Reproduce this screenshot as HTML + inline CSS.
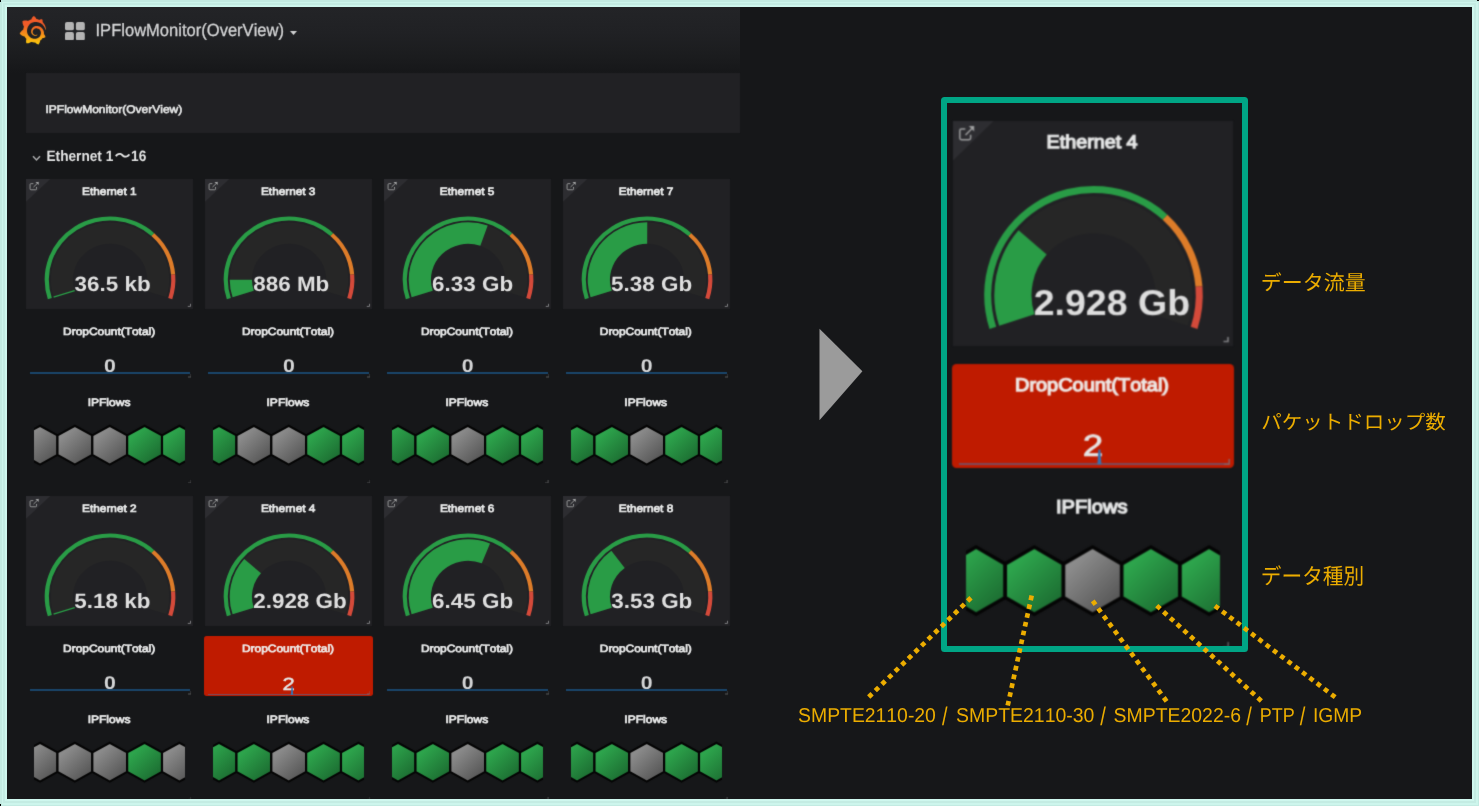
<!DOCTYPE html>
<html lang="ja"><head><meta charset="utf-8"><title>IPFlowMonitor(OverView)</title>
<style>
html,body{margin:0;padding:0;background:#c4ece3}
body{width:1479px;height:806px;position:relative;overflow:hidden;background:#c4ece3;font-family:"Liberation Sans",sans-serif;font-kerning:none}
.a{position:absolute;display:block}
.tx{left:0;top:0;overflow:visible}
.s{font-family:"Liberation Sans",sans-serif;font-kerning:none;text-rendering:geometricPrecision;white-space:pre}
</style></head><body>
<div class="a" style="left:0;top:0;width:1479px;height:806px;background:#c3ebe2"></div>
<div class="a" style="left:1.5px;top:1.5px;width:1476px;height:803px;background:#cdf5ec"></div>
<div class="a" style="left:3px;top:3px;width:1473px;height:800px;background:#c4ece3"></div>
<div class="a" style="left:5px;top:5px;width:1469px;height:796px;background:#cff7ee"></div>
<div class="a" style="left:7px;top:7px;width:1465px;height:792px;background:#161719"></div>
<div class="a" style="left:0;top:0;width:1px;height:2px;background:#000"></div>
<div class="a" style="left:1477px;top:0;width:2px;height:1px;background:#000"></div>
<div class="a" style="left:0;top:804px;width:1px;height:2px;background:#000"></div>
<div class="a" style="left:7px;top:7px;width:733px;height:66px;background:linear-gradient(180deg,#232427 0%,#202124 40%,#1b1c1e 75%,#161719 100%)"></div>
<svg width="0" height="0" style="position:absolute"><defs><linearGradient id="hg" x1="25%" y1="20%" x2="80%" y2="85%"><stop offset="0" stop-color="#2da44c"/><stop offset="1" stop-color="#1d7033"/></linearGradient><linearGradient id="hx" x1="25%" y1="20%" x2="80%" y2="85%"><stop offset="0" stop-color="#8b8b8b"/><stop offset="1" stop-color="#595959"/></linearGradient><filter id="bl" x="0" y="0" width="100%" height="100%" color-interpolation-filters="sRGB"><feConvolveMatrix order="3" kernelMatrix="0.0113 0.0838 0.0113 0.0838 0.6193 0.0838 0.0113 0.0838 0.0113" edgeMode="none" preserveAlpha="false"/></filter><filter id="br" x="0" y="0" width="100%" height="100%" color-interpolation-filters="sRGB"><feConvolveMatrix order="5" kernelMatrix="0.0004 0.0043 0.0098 0.0043 0.0004 0.0043 0.0506 0.1151 0.0506 0.0043 0.0098 0.1151 0.2619 0.1151 0.0098 0.0043 0.0506 0.1151 0.0506 0.0043 0.0004 0.0043 0.0098 0.0043 0.0004" edgeMode="none" preserveAlpha="false"/></filter></defs></svg>
<div class="a" style="left:0;top:0;width:1479px;height:806px;filter:url(#bl);clip-path:inset(7px 7px 7px 7px)">
<svg class="a" style="left:19px;top:16px" width="27.5" height="28.5" viewBox="0 0 351 365"><defs><linearGradient id="lg" gradientUnits="userSpaceOnUse" x1="175.5" y1="445.5" x2="175.5" y2="114"><stop offset="0" stop-color="#FFF100"/><stop offset="1" stop-color="#F05A28"/></linearGradient></defs><path fill="url(#lg)" d="M342,161.2c-0.6-6.1-1.6-13.1-3.6-20.9c-2-7.7-5-16.2-9.4-25c-4.4-8.8-10.1-17.9-17.5-26.8c-2.9-3.5-6.1-6.9-9.5-10.2c5.1-20.3-6.2-37.9-6.2-37.9c-19.5-1.2-31.9,6.1-36.5,9.4c-0.8-0.3-1.5-0.7-2.3-1c-3.3-1.3-6.7-2.6-10.3-3.7c-3.5-1.1-7.1-2.1-10.8-3c-3.7-0.9-7.4-1.6-11.2-2.2c-0.7-0.1-1.3-0.2-2-0.3c-8.5-27.2-32.9-38.6-32.9-38.6c-27.3,17.3-32.4,41.5-32.4,41.5s-0.1,0.5-0.3,1.4c-1.5,0.4-3,0.9-4.5,1.3c-2.1,0.6-4.2,1.4-6.2,2.2c-2.1,0.8-4.1,1.6-6.2,2.5c-4.1,1.8-8.2,3.8-12.2,6c-3.9,2.2-7.7,4.6-11.4,7.1c-0.5-0.2-1-0.4-1-0.4c-37.8-14.4-71.3,2.9-71.3,2.9c-3.1,40.2,15.1,65.5,18.7,70.1c-0.9,2.5-1.7,5-2.5,7.5c-2.8,9.1-4.9,18.4-6.2,28.1c-0.2,1.4-0.4,2.8-0.5,4.2C18.8,192.7,8.5,228,8.5,228c29.1,33.5,63.1,35.6,63.1,35.6c0,0,0.1-0.1,0.1-0.1c4.3,7.7,9.3,15,14.9,21.9c2.4,2.9,4.8,5.6,7.4,8.3c-10.6,30.4,1.5,55.6,1.5,55.6c32.4,1.2,53.7-14.2,58.2-17.7c3.2,1.1,6.5,2.1,9.8,2.9c10,2.6,20.2,4.1,30.4,4.5c2.5,0.1,5.1,0.2,7.6,0.1l1.2,0l0.8,0l1.6,0l1.6-0.1l0,0.1c15.3,21.8,42.1,24.9,42.1,24.9c19.1-20.1,20.2-40.1,20.2-44.4l0,0c0,0,0-0.1,0-0.3c0-0.4,0-0.6,0-0.6l0,0c0-0.3,0-0.6,0-0.9c4-2.8,7.8-5.8,11.4-9.1c7.6-6.9,14.3-14.8,19.9-23.3c0.5-0.8,1-1.6,1.5-2.4c21.6,1.2,36.9-13.4,36.9-13.4c-3.6-22.5-16.4-33.5-19.1-35.6l0,0c0,0-0.1-0.1-0.3-0.2c-0.2-0.1-0.2-0.2-0.2-0.2c0,0,0,0,0,0c-0.1-0.1-0.3-0.2-0.5-0.3c0.1-1.4,0.2-2.7,0.3-4.1c0.2-2.4,0.2-4.9,0.2-7.3l0-1.8l0-0.9l0-0.5c0-0.6,0-0.4,0-0.6l-0.1-1.5l-0.1-2c0-0.7-0.1-1.3-0.2-1.9c-0.1-0.6-0.1-1.3-0.2-1.9l-0.2-1.9l-0.3-1.9c-0.4-2.5-0.8-4.9-1.4-7.4c-2.3-9.7-6.1-18.9-11-27.2c-5-8.3-11.2-15.6-18.3-21.8c-7-6.2-14.9-11.2-23.1-14.9c-8.3-3.7-16.9-6.1-25.5-7.2c-4.3-0.6-8.6-0.8-12.9-0.7l-1.6,0l-0.4,0c-0.1,0-0.6,0-0.5,0l-0.7,0l-1.6,0.1c-0.6,0-1.2,0.1-1.7,0.1c-2.2,0.2-4.4,0.5-6.5,0.9c-8.6,1.6-16.7,4.7-23.8,9c-7.1,4.3-13.3,9.6-18.3,15.6c-5,6-8.9,12.7-11.6,19.6c-2.7,6.9-4.2,14.1-4.6,21c-0.1,1.7-0.1,3.5-0.1,5.2c0,0.4,0,0.9,0,1.3l0.1,1.4c0.1,0.8,0.1,1.7,0.2,2.5c0.3,3.5,1,6.9,1.9,10.1c1.9,6.5,4.9,12.4,8.6,17.4c3.7,5,8.2,9.1,12.9,12.4c4.7,3.2,9.8,5.5,14.8,7c5,1.5,10,2.1,14.7,2.1c0.6,0,1.2,0,1.7,0c0.3,0,0.6,0,0.9,0c0.3,0,0.6,0,0.9-0.1c0.5,0,1-0.1,1.5-0.1c0.1,0,0.3,0,0.4-0.1l0.5-0.1c0.3,0,0.6-0.1,0.9-0.1c0.6-0.1,1.1-0.2,1.7-0.3c0.6-0.1,1.1-0.2,1.6-0.4c1.1-0.2,2.1-0.6,3.1-0.9c2-0.7,4-1.5,5.7-2.4c1.8-0.9,3.4-2,5-3c0.4-0.3,0.9-0.6,1.3-1c1.6-1.3,1.9-3.7,0.6-5.3c-1.1-1.4-3.1-1.8-4.7-0.9c-0.4,0.2-0.8,0.4-1.2,0.6c-1.4,0.7-2.8,1.3-4.3,1.8c-1.5,0.5-3.1,0.9-4.7,1.2c-0.8,0.1-1.6,0.2-2.5,0.3c-0.4,0-0.8,0.1-1.3,0.1c-0.4,0-0.9,0-1.2,0c-0.4,0-0.8,0-1.2,0c-0.5,0-1,0-1.5-0.1c0,0-0.3,0-0.1,0l-0.2,0l-0.3,0c-0.2,0-0.5,0-0.7-0.1c-0.5-0.1-0.9-0.1-1.4-0.2c-3.7-0.5-7.4-1.6-10.9-3.2c-3.6-1.6-7-3.8-10.1-6.6c-3.1-2.8-5.8-6.1-7.9-9.9c-2.1-3.8-3.6-8-4.3-12.4c-0.3-2.2-0.5-4.5-0.4-6.7c0-0.6,0.1-1.2,0.1-1.8c0,0.2,0-0.1,0-0.1l0-0.2l0-0.5c0-0.3,0.1-0.6,0.1-0.9c0.1-1.2,0.3-2.4,0.5-3.6c1.7-9.6,6.5-19,13.9-26.1c1.9-1.8,3.9-3.4,6-4.9c2.1-1.5,4.4-2.8,6.8-3.9c2.4-1.1,4.8-2,7.4-2.7c2.5-0.7,5.1-1.1,7.8-1.4c1.3-0.1,2.6-0.2,4-0.2c0.4,0,0.6,0,0.9,0l1.1,0l0.7,0c0.3,0,0,0,0.1,0l0.3,0l1.1,0.1c2.9,0.2,5.7,0.6,8.5,1.3c5.6,1.2,11.1,3.3,16.2,6.1c10.2,5.7,18.9,14.5,24.2,25.1c2.7,5.3,4.6,11,5.5,16.9c0.2,1.5,0.4,3,0.5,4.5l0.1,1.1l0.1,1.1c0,0.4,0,0.8,0,1.1c0,0.4,0,0.8,0,1.1l0,1l0,1.1c0,0.7-0.1,1.9-0.1,2.6c-0.1,1.6-0.3,3.3-0.5,4.9c-0.2,1.6-0.5,3.2-0.8,4.8c-0.3,1.6-0.7,3.2-1.1,4.7c-0.8,3.1-1.8,6.2-3,9.3c-2.4,6-5.6,11.8-9.4,17.1c-7.700,10.600-18.200,19.200-30.200,24.700c-6,2.700-12.300,4.700-18.800,5.700c-3.200,0.600-6.500,0.900-9.800,1l-0.600,0l-0.500,0l-1.100,0l-1.600,0l-0.800,0c0.400,0-0.100,0-0.100,0l-0.300,0c-1.800,0-3.500-0.100-5.300-0.300c-7-0.500-13.900-1.800-20.700-3.700c-6.700-1.900-13.200-4.600-19.400-7.800c-12.300-6.600-23.400-15.600-32-26.500c-4.300-5.400-8.100-11.300-11.200-17.400c-3.100-6.100-5.600-12.600-7.400-19.100c-1.800-6.600-2.900-13.300-3.400-20.100l-0.100-1.300l0-0.300l0-0.300l0-0.600l0-1.100l0-0.300l0-0.400l0-0.800l0-1.600l0-0.300c0,0,0,0.100,0-0.100l0-0.600c0-0.800,0-1.700,0-2.500c0.100-3.300,0.400-6.800,0.800-10.200c0.400-3.400,1-6.900,1.700-10.300c0.700-3.400,1.500-6.800,2.500-10.200c1.900-6.700,4.300-13.200,7.100-19.300c5.700-12.200,13.100-23.100,22-31.800c2.200-2.200,4.500-4.200,6.900-6.200c2.400-1.900,4.900-3.700,7.500-5.400c2.500-1.700,5.200-3.200,7.900-4.600c1.300-0.700,2.700-1.400,4.100-2c0.700-0.300,1.400-0.600,2.100-0.900c0.700-0.300,1.400-0.600,2.100-0.900c2.800-1.200,5.700-2.200,8.700-3.100c0.700-0.200,1.500-0.400,2.200-0.700c0.700-0.200,1.500-0.400,2.200-0.600c1.500-0.400,3-0.800,4.500-1.100c0.700-0.200,1.500-0.300,2.300-0.500c0.800-0.200,1.500-0.300,2.300-0.500c0.800-0.100,1.500-0.300,2.300-0.400l1.100-0.200l1.200-0.200c0.800-0.100,1.500-0.200,2.300-0.300c0.900-0.100,1.700-0.200,2.600-0.300c0.700-0.100,1.900-0.200,2.600-0.300c0.500-0.100,1.100-0.100,1.600-0.200l1.100-0.100l0.500-0.100l0.600,0c0.900-0.100,1.700-0.100,2.600-0.200l1.300-0.100c0,0,0.500,0,0.100,0l0.300,0l0.600,0c0.700,0,1.500-0.100,2.200-0.100c2.900-0.100,5.900-0.100,8.800,0c5.800,0.200,11.500,0.900,17,1.900c11.100,2.100,21.500,5.600,31,10.300c9.500,4.600,17.900,10.300,25.300,16.500c0.500,0.400,0.900,0.800,1.400,1.200c0.400,0.400,0.900,0.800,1.300,1.200c0.900,0.800,1.700,1.600,2.600,2.400c0.900,0.800,1.700,1.600,2.500,2.400c0.800,0.800,1.600,1.600,2.400,2.500c3.100,3.300,6,6.600,8.600,10c5.200,6.700,9.400,13.500,12.700,19.900c0.200,0.400,0.400,0.800,0.600,1.200c0.200,0.400,0.400,0.800,0.600,1.200c0.400,0.800,0.800,1.600,1.100,2.400c0.400,0.800,0.700,1.500,1.100,2.300c0.300,0.800,0.700,1.500,1,2.300c1.200,3,2.400,5.900,3.300,8.600c1.500,4.400,2.600,8.300,3.500,11.700c0.300,1.400,1.600,2.300,3,2.100c1.500-0.100,2.600-1.300,2.600-2.800C342.600,170.400,342.500,166.100,342,161.200z"/></svg>
<svg class="a" style="left:65.2px;top:21.8px" width="19.8" height="18.4" viewBox="0 0 20 19" preserveAspectRatio="none"><g fill="#b4b4b4"><rect x="0" y="0" width="9" height="8.6" rx="2"/><rect x="11" y="0" width="9" height="8.6" rx="2"/><rect x="0" y="10.4" width="9" height="8.6" rx="2"/><rect x="11" y="10.4" width="9" height="8.6" rx="2"/></g></svg>
<svg class="a tx" width="1" height="1"><text class="s" transform="translate(95.52,36) scale(0.9412,1)" font-size="17.59" fill="#d3d4d5" stroke="#d3d4d5" stroke-width="0.3">IPFlowMonitor(OverView)</text></svg>
<svg class="a" style="left:290px;top:30.5px" width="7" height="4" viewBox="0 0 7 4"><path d="M0 0H7L3.5 4Z" fill="#cfd0d1"/></svg>
<div class="a" style="left:26.3px;top:73.3px;width:713.7px;height:59.4px;background:#212124"></div>
<svg class="a tx" width="1" height="1"><text class="s" transform="translate(45.49,113) scale(1.0868,1)" font-size="11.05" fill="#e4e5e5" stroke="#e4e5e5" stroke-width="0.6">IPFlowMonitor(OverView)</text></svg>
<svg class="a" style="left:32px;top:154.5px" width="9" height="7" viewBox="0 0 9 7"><path d="M1 1.2L4.5 5L8 1.2" fill="none" stroke="#a7a8a9" stroke-width="1.5"/></svg>
<svg class="a tx" width="1" height="1"><text class="s" transform="translate(46.48,161) scale(0.9093,1)" font-size="15.04" font-weight="bold" fill="#e2e3e3">Ethernet 1</text></svg>
<svg class="a tx" width="1" height="1"><text class="s" transform="translate(131.04,161) scale(0.9093,1)" font-size="15.04" font-weight="bold" fill="#e2e3e3">16</text></svg>
<svg class="a tx" width="1" height="1"><text class="s" style="font-family:'Liberation Sans','Noto Sans CJK JP',sans-serif" transform="translate(114.6,161) scale(1.077,1)" font-size="15.04" font-weight="bold" fill="#e2e3e3">～</text></svg>
<!-- Ethernet 1 -->
<div class="a" style="left:26px;top:179.3px;width:167.2px;height:130px;background:#212124"></div>
<svg class="a" style="left:26px;top:179.3px" width="167.2" height="130" viewBox="0 0 279.5 225.0" preserveAspectRatio="none"><path d="M0 0H40.6L0 39.5Z" fill="#2d2d31"/><g transform="translate(6.2,5) scale(1.02)" fill="none" stroke="#a0a1a2" stroke-width="1.45"><path d="M11.2 8.6V11.8Q11.2 13.4 9.6 13.4H2.2Q.6 13.4 .6 11.8V4.6Q.6 3 2.2 3H6"/><path d="M6.2 8.8L14 1"/></g><path d="M15.8 5H21.2V10.4Z" fill="#a0a1a2"/><path d="M46.16 204.85A99.2 99.2 0 1 1 234.84 204.85L199.47 193.36A62 62 0 1 0 81.53 193.36Z" fill="#262626"/><path d="M46.03 204.48L81.46 193.12" stroke="#299c46" stroke-width="2.2"/><path d="M36.55 207.98A109.3 109.3 0 0 1 214.42 93.68L209.68 98.84A102.3 102.3 0 0 0 43.21 205.81Z" fill="#299c46"/><path d="M214.42 93.68A109.3 109.3 0 0 1 249.44 165.28L242.46 165.85A102.3 102.3 0 0 0 209.68 98.84Z" fill="#dd7c29"/><path d="M249.44 165.28A109.3 109.3 0 0 1 244.45 207.98L237.79 205.81A102.3 102.3 0 0 0 242.46 165.85Z" fill="#d44a3a"/><path d="M270.5 220.5H275V216" fill="none" stroke="#808183" stroke-width="1.6"/></svg>
<svg class="a tx" width="1" height="1"><text class="s" transform="translate(82.11,195) scale(1.1024,1)" font-size="10.71" fill="#e6e7e7" stroke="#e6e7e7" stroke-width="0.72">Ethernet 1</text></svg>
<svg class="a tx" width="1" height="1"><text class="s" transform="translate(74.54,291) scale(1.0824,1)" font-size="20.74" font-weight="bold" fill="#dedede">36.5 kb</text></svg>
<svg class="a tx" width="1" height="1"><text class="s" transform="translate(63.08,335) scale(1.1316,1)" font-size="10.54" fill="#e6e7e7" stroke="#e6e7e7" stroke-width="0.72">DropCount(Total)</text></svg>
<svg class="a tx" width="1" height="1"><text class="s" transform="translate(104.03,372) scale(1.1558,1)" font-size="18.39" font-weight="bold" fill="#d4d5d6">0</text></svg>
<div class="a" style="left:29.59px;top:372.42px;width:160.92px;height:1.1px;background:#1a456a"></div>
<svg class="a" style="left:187.82px;top:374.07px" width="3.59" height="3.47" viewBox="0 0 6 6" preserveAspectRatio="none"><path d="M0 5.2H5.2V0" fill="none" stroke="#5d5e60" stroke-width="1.6"/></svg>
<svg class="a tx" width="1" height="1"><text class="s" transform="translate(87.63,406) scale(1.1167,1)" font-size="10.79" fill="#e6e7e7" stroke="#e6e7e7" stroke-width="0.72">IPFlows</text></svg>
<svg class="a" style="left:34.02px;top:423.68px" width="151.47" height="42.33" viewBox="0 0 253.2 73.26" preserveAspectRatio="none"><polygon points="39.23,53.45 10.1,70.26 -19.02,53.45 -19.02,19.82 10.1,3 39.23,19.82" fill="url(#hx)" stroke="#050505" stroke-width="3.6" stroke-linejoin="miter"/><polygon points="97.48,53.45 68.35,70.26 39.23,53.45 39.23,19.82 68.35,3 97.48,19.82" fill="url(#hx)" stroke="#050505" stroke-width="3.6" stroke-linejoin="miter"/><polygon points="155.73,53.45 126.6,70.26 97.48,53.45 97.48,19.82 126.6,3 155.73,19.82" fill="url(#hx)" stroke="#050505" stroke-width="3.6" stroke-linejoin="miter"/><polygon points="213.98,53.45 184.85,70.26 155.73,53.45 155.73,19.82 184.85,3 213.98,19.82" fill="url(#hg)" stroke="#050505" stroke-width="3.6" stroke-linejoin="miter"/><polygon points="272.23,53.45 243.1,70.26 213.98,53.45 213.98,19.82 243.1,3 272.23,19.82" fill="url(#hg)" stroke="#050505" stroke-width="3.6" stroke-linejoin="miter"/></svg>
<svg class="a" style="left:187.64px;top:479.92px" width="3.59" height="3.47" viewBox="0 0 6 6" preserveAspectRatio="none"><path d="M0 5.2H5.2V0" fill="none" stroke="#58595b" stroke-width="1.6"/></svg>
<!-- Ethernet 3 -->
<div class="a" style="left:204.9px;top:179.3px;width:167.2px;height:130px;background:#212124"></div>
<svg class="a" style="left:204.9px;top:179.3px" width="167.2" height="130" viewBox="0 0 279.5 225.0" preserveAspectRatio="none"><path d="M0 0H40.6L0 39.5Z" fill="#2d2d31"/><g transform="translate(6.2,5) scale(1.02)" fill="none" stroke="#a0a1a2" stroke-width="1.45"><path d="M11.2 8.6V11.8Q11.2 13.4 9.6 13.4H2.2Q.6 13.4 .6 11.8V4.6Q.6 3 2.2 3H6"/><path d="M6.2 8.8L14 1"/></g><path d="M15.8 5H21.2V10.4Z" fill="#a0a1a2"/><path d="M46.16 204.85A99.2 99.2 0 1 1 234.84 204.85L199.47 193.36A62 62 0 1 0 81.53 193.36Z" fill="#262626"/><path d="M46.16 204.85A99.2 99.2 0 0 1 41.3 174.51L78.5 174.39A62 62 0 0 0 81.53 193.36Z" fill="#299c46"/><path d="M36.55 207.98A109.3 109.3 0 0 1 214.42 93.68L209.68 98.84A102.3 102.3 0 0 0 43.21 205.81Z" fill="#299c46"/><path d="M214.42 93.68A109.3 109.3 0 0 1 249.44 165.28L242.46 165.85A102.3 102.3 0 0 0 209.68 98.84Z" fill="#dd7c29"/><path d="M249.44 165.28A109.3 109.3 0 0 1 244.45 207.98L237.79 205.81A102.3 102.3 0 0 0 242.46 165.85Z" fill="#d44a3a"/><path d="M270.5 220.5H275V216" fill="none" stroke="#808183" stroke-width="1.6"/></svg>
<svg class="a tx" width="1" height="1"><text class="s" transform="translate(260.98,195) scale(1.1024,1)" font-size="10.71" fill="#e6e7e7" stroke="#e6e7e7" stroke-width="0.72">Ethernet 3</text></svg>
<svg class="a tx" width="1" height="1"><text class="s" transform="translate(253.24,291) scale(1.0824,1)" font-size="20.74" font-weight="bold" fill="#dedede">886 Mb</text></svg>
<svg class="a tx" width="1" height="1"><text class="s" transform="translate(241.98,335) scale(1.1316,1)" font-size="10.54" fill="#e6e7e7" stroke="#e6e7e7" stroke-width="0.72">DropCount(Total)</text></svg>
<svg class="a tx" width="1" height="1"><text class="s" transform="translate(282.93,372) scale(1.1558,1)" font-size="18.39" font-weight="bold" fill="#d4d5d6">0</text></svg>
<div class="a" style="left:208.49px;top:372.42px;width:160.92px;height:1.1px;background:#1a456a"></div>
<svg class="a" style="left:366.72px;top:374.07px" width="3.59" height="3.47" viewBox="0 0 6 6" preserveAspectRatio="none"><path d="M0 5.2H5.2V0" fill="none" stroke="#5d5e60" stroke-width="1.6"/></svg>
<svg class="a tx" width="1" height="1"><text class="s" transform="translate(266.53,406) scale(1.1167,1)" font-size="10.79" fill="#e6e7e7" stroke="#e6e7e7" stroke-width="0.72">IPFlows</text></svg>
<svg class="a" style="left:212.92px;top:423.68px" width="151.47" height="42.33" viewBox="0 0 253.2 73.26" preserveAspectRatio="none"><polygon points="39.23,53.45 10.1,70.26 -19.02,53.45 -19.02,19.82 10.1,3 39.23,19.82" fill="url(#hg)" stroke="#050505" stroke-width="3.6" stroke-linejoin="miter"/><polygon points="97.48,53.45 68.35,70.26 39.23,53.45 39.23,19.82 68.35,3 97.48,19.82" fill="url(#hx)" stroke="#050505" stroke-width="3.6" stroke-linejoin="miter"/><polygon points="155.73,53.45 126.6,70.26 97.48,53.45 97.48,19.82 126.6,3 155.73,19.82" fill="url(#hx)" stroke="#050505" stroke-width="3.6" stroke-linejoin="miter"/><polygon points="213.98,53.45 184.85,70.26 155.73,53.45 155.73,19.82 184.85,3 213.98,19.82" fill="url(#hg)" stroke="#050505" stroke-width="3.6" stroke-linejoin="miter"/><polygon points="272.23,53.45 243.1,70.26 213.98,53.45 213.98,19.82 243.1,3 272.23,19.82" fill="url(#hg)" stroke="#050505" stroke-width="3.6" stroke-linejoin="miter"/></svg>
<svg class="a" style="left:366.54px;top:479.92px" width="3.59" height="3.47" viewBox="0 0 6 6" preserveAspectRatio="none"><path d="M0 5.2H5.2V0" fill="none" stroke="#58595b" stroke-width="1.6"/></svg>
<!-- Ethernet 5 -->
<div class="a" style="left:383.8px;top:179.3px;width:167.2px;height:130px;background:#212124"></div>
<svg class="a" style="left:383.8px;top:179.3px" width="167.2" height="130" viewBox="0 0 279.5 225.0" preserveAspectRatio="none"><path d="M0 0H40.6L0 39.5Z" fill="#2d2d31"/><g transform="translate(6.2,5) scale(1.02)" fill="none" stroke="#a0a1a2" stroke-width="1.45"><path d="M11.2 8.6V11.8Q11.2 13.4 9.6 13.4H2.2Q.6 13.4 .6 11.8V4.6Q.6 3 2.2 3H6"/><path d="M6.2 8.8L14 1"/></g><path d="M15.8 5H21.2V10.4Z" fill="#a0a1a2"/><path d="M46.16 204.85A99.2 99.2 0 1 1 234.84 204.85L199.47 193.36A62 62 0 1 0 81.53 193.36Z" fill="#262626"/><path d="M46.16 204.85A99.2 99.2 0 0 1 173.37 80.61L161.05 115.7A62 62 0 0 0 81.53 193.36Z" fill="#299c46"/><path d="M36.55 207.98A109.3 109.3 0 0 1 214.42 93.68L209.68 98.84A102.3 102.3 0 0 0 43.21 205.81Z" fill="#299c46"/><path d="M214.42 93.68A109.3 109.3 0 0 1 249.44 165.28L242.46 165.85A102.3 102.3 0 0 0 209.68 98.84Z" fill="#dd7c29"/><path d="M249.44 165.28A109.3 109.3 0 0 1 244.45 207.98L237.79 205.81A102.3 102.3 0 0 0 242.46 165.85Z" fill="#d44a3a"/><path d="M270.5 220.5H275V216" fill="none" stroke="#808183" stroke-width="1.6"/></svg>
<svg class="a tx" width="1" height="1"><text class="s" transform="translate(439.87,195) scale(1.1024,1)" font-size="10.71" fill="#e6e7e7" stroke="#e6e7e7" stroke-width="0.72">Ethernet 5</text></svg>
<svg class="a tx" width="1" height="1"><text class="s" transform="translate(432.03,291) scale(1.0824,1)" font-size="20.74" font-weight="bold" fill="#dedede">6.33 Gb</text></svg>
<svg class="a tx" width="1" height="1"><text class="s" transform="translate(420.88,335) scale(1.1316,1)" font-size="10.54" fill="#e6e7e7" stroke="#e6e7e7" stroke-width="0.72">DropCount(Total)</text></svg>
<svg class="a tx" width="1" height="1"><text class="s" transform="translate(461.83,372) scale(1.1558,1)" font-size="18.39" font-weight="bold" fill="#d4d5d6">0</text></svg>
<div class="a" style="left:387.39px;top:372.42px;width:160.92px;height:1.1px;background:#1a456a"></div>
<svg class="a" style="left:545.62px;top:374.07px" width="3.59" height="3.47" viewBox="0 0 6 6" preserveAspectRatio="none"><path d="M0 5.2H5.2V0" fill="none" stroke="#5d5e60" stroke-width="1.6"/></svg>
<svg class="a tx" width="1" height="1"><text class="s" transform="translate(445.43,406) scale(1.1167,1)" font-size="10.79" fill="#e6e7e7" stroke="#e6e7e7" stroke-width="0.72">IPFlows</text></svg>
<svg class="a" style="left:391.82px;top:423.68px" width="151.47" height="42.33" viewBox="0 0 253.2 73.26" preserveAspectRatio="none"><polygon points="39.23,53.45 10.1,70.26 -19.02,53.45 -19.02,19.82 10.1,3 39.23,19.82" fill="url(#hg)" stroke="#050505" stroke-width="3.6" stroke-linejoin="miter"/><polygon points="97.48,53.45 68.35,70.26 39.23,53.45 39.23,19.82 68.35,3 97.48,19.82" fill="url(#hg)" stroke="#050505" stroke-width="3.6" stroke-linejoin="miter"/><polygon points="155.73,53.45 126.6,70.26 97.48,53.45 97.48,19.82 126.6,3 155.73,19.82" fill="url(#hx)" stroke="#050505" stroke-width="3.6" stroke-linejoin="miter"/><polygon points="213.98,53.45 184.85,70.26 155.73,53.45 155.73,19.82 184.85,3 213.98,19.82" fill="url(#hg)" stroke="#050505" stroke-width="3.6" stroke-linejoin="miter"/><polygon points="272.23,53.45 243.1,70.26 213.98,53.45 213.98,19.82 243.1,3 272.23,19.82" fill="url(#hg)" stroke="#050505" stroke-width="3.6" stroke-linejoin="miter"/></svg>
<svg class="a" style="left:545.44px;top:479.92px" width="3.59" height="3.47" viewBox="0 0 6 6" preserveAspectRatio="none"><path d="M0 5.2H5.2V0" fill="none" stroke="#58595b" stroke-width="1.6"/></svg>
<!-- Ethernet 7 -->
<div class="a" style="left:562.7px;top:179.3px;width:167.2px;height:130px;background:#212124"></div>
<svg class="a" style="left:562.7px;top:179.3px" width="167.2" height="130" viewBox="0 0 279.5 225.0" preserveAspectRatio="none"><path d="M0 0H40.6L0 39.5Z" fill="#2d2d31"/><g transform="translate(6.2,5) scale(1.02)" fill="none" stroke="#a0a1a2" stroke-width="1.45"><path d="M11.2 8.6V11.8Q11.2 13.4 9.6 13.4H2.2Q.6 13.4 .6 11.8V4.6Q.6 3 2.2 3H6"/><path d="M6.2 8.8L14 1"/></g><path d="M15.8 5H21.2V10.4Z" fill="#a0a1a2"/><path d="M46.16 204.85A99.2 99.2 0 1 1 234.84 204.85L199.47 193.36A62 62 0 1 0 81.53 193.36Z" fill="#262626"/><path d="M46.16 204.85A99.2 99.2 0 0 1 140.87 75L140.73 112.2A62 62 0 0 0 81.53 193.36Z" fill="#299c46"/><path d="M36.55 207.98A109.3 109.3 0 0 1 214.42 93.68L209.68 98.84A102.3 102.3 0 0 0 43.21 205.81Z" fill="#299c46"/><path d="M214.42 93.68A109.3 109.3 0 0 1 249.44 165.28L242.46 165.85A102.3 102.3 0 0 0 209.68 98.84Z" fill="#dd7c29"/><path d="M249.44 165.28A109.3 109.3 0 0 1 244.45 207.98L237.79 205.81A102.3 102.3 0 0 0 242.46 165.85Z" fill="#d44a3a"/><path d="M270.5 220.5H275V216" fill="none" stroke="#808183" stroke-width="1.6"/></svg>
<svg class="a tx" width="1" height="1"><text class="s" transform="translate(618.82,195) scale(1.1024,1)" font-size="10.71" fill="#e6e7e7" stroke="#e6e7e7" stroke-width="0.72">Ethernet 7</text></svg>
<svg class="a tx" width="1" height="1"><text class="s" transform="translate(611.06,291) scale(1.0824,1)" font-size="20.74" font-weight="bold" fill="#dedede">5.38 Gb</text></svg>
<svg class="a tx" width="1" height="1"><text class="s" transform="translate(599.78,335) scale(1.1316,1)" font-size="10.54" fill="#e6e7e7" stroke="#e6e7e7" stroke-width="0.72">DropCount(Total)</text></svg>
<svg class="a tx" width="1" height="1"><text class="s" transform="translate(640.73,372) scale(1.1558,1)" font-size="18.39" font-weight="bold" fill="#d4d5d6">0</text></svg>
<div class="a" style="left:566.29px;top:372.42px;width:160.92px;height:1.1px;background:#1a456a"></div>
<svg class="a" style="left:724.52px;top:374.07px" width="3.59" height="3.47" viewBox="0 0 6 6" preserveAspectRatio="none"><path d="M0 5.2H5.2V0" fill="none" stroke="#5d5e60" stroke-width="1.6"/></svg>
<svg class="a tx" width="1" height="1"><text class="s" transform="translate(624.33,406) scale(1.1167,1)" font-size="10.79" fill="#e6e7e7" stroke="#e6e7e7" stroke-width="0.72">IPFlows</text></svg>
<svg class="a" style="left:570.72px;top:423.68px" width="151.47" height="42.33" viewBox="0 0 253.2 73.26" preserveAspectRatio="none"><polygon points="39.23,53.45 10.1,70.26 -19.02,53.45 -19.02,19.82 10.1,3 39.23,19.82" fill="url(#hg)" stroke="#050505" stroke-width="3.6" stroke-linejoin="miter"/><polygon points="97.48,53.45 68.35,70.26 39.23,53.45 39.23,19.82 68.35,3 97.48,19.82" fill="url(#hg)" stroke="#050505" stroke-width="3.6" stroke-linejoin="miter"/><polygon points="155.73,53.45 126.6,70.26 97.48,53.45 97.48,19.82 126.6,3 155.73,19.82" fill="url(#hx)" stroke="#050505" stroke-width="3.6" stroke-linejoin="miter"/><polygon points="213.98,53.45 184.85,70.26 155.73,53.45 155.73,19.82 184.85,3 213.98,19.82" fill="url(#hg)" stroke="#050505" stroke-width="3.6" stroke-linejoin="miter"/><polygon points="272.23,53.45 243.1,70.26 213.98,53.45 213.98,19.82 243.1,3 272.23,19.82" fill="url(#hg)" stroke="#050505" stroke-width="3.6" stroke-linejoin="miter"/></svg>
<svg class="a" style="left:724.34px;top:479.92px" width="3.59" height="3.47" viewBox="0 0 6 6" preserveAspectRatio="none"><path d="M0 5.2H5.2V0" fill="none" stroke="#58595b" stroke-width="1.6"/></svg>
<!-- Ethernet 2 -->
<div class="a" style="left:26px;top:496.3px;width:167.2px;height:130px;background:#212124"></div>
<svg class="a" style="left:26px;top:496.3px" width="167.2" height="130" viewBox="0 0 279.5 225.0" preserveAspectRatio="none"><path d="M0 0H40.6L0 39.5Z" fill="#2d2d31"/><g transform="translate(6.2,5) scale(1.02)" fill="none" stroke="#a0a1a2" stroke-width="1.45"><path d="M11.2 8.6V11.8Q11.2 13.4 9.6 13.4H2.2Q.6 13.4 .6 11.8V4.6Q.6 3 2.2 3H6"/><path d="M6.2 8.8L14 1"/></g><path d="M15.8 5H21.2V10.4Z" fill="#a0a1a2"/><path d="M46.16 204.85A99.2 99.2 0 1 1 234.84 204.85L199.47 193.36A62 62 0 1 0 81.53 193.36Z" fill="#262626"/><path d="M46.03 204.48L81.46 193.12" stroke="#299c46" stroke-width="2.2"/><path d="M36.55 207.98A109.3 109.3 0 0 1 214.42 93.68L209.68 98.84A102.3 102.3 0 0 0 43.21 205.81Z" fill="#299c46"/><path d="M214.42 93.68A109.3 109.3 0 0 1 249.44 165.28L242.46 165.85A102.3 102.3 0 0 0 209.68 98.84Z" fill="#dd7c29"/><path d="M249.44 165.28A109.3 109.3 0 0 1 244.45 207.98L237.79 205.81A102.3 102.3 0 0 0 242.46 165.85Z" fill="#d44a3a"/><path d="M270.5 220.5H275V216" fill="none" stroke="#808183" stroke-width="1.6"/></svg>
<svg class="a tx" width="1" height="1"><text class="s" transform="translate(82.12,512) scale(1.1024,1)" font-size="10.71" fill="#e6e7e7" stroke="#e6e7e7" stroke-width="0.72">Ethernet 2</text></svg>
<svg class="a tx" width="1" height="1"><text class="s" transform="translate(74.36,608) scale(1.0824,1)" font-size="20.74" font-weight="bold" fill="#dedede">5.18 kb</text></svg>
<svg class="a tx" width="1" height="1"><text class="s" transform="translate(63.08,652) scale(1.1316,1)" font-size="10.54" fill="#e6e7e7" stroke="#e6e7e7" stroke-width="0.72">DropCount(Total)</text></svg>
<svg class="a tx" width="1" height="1"><text class="s" transform="translate(104.03,689) scale(1.1558,1)" font-size="18.39" font-weight="bold" fill="#d4d5d6">0</text></svg>
<div class="a" style="left:29.59px;top:689.42px;width:160.92px;height:1.1px;background:#1a456a"></div>
<svg class="a" style="left:187.82px;top:691.07px" width="3.59" height="3.47" viewBox="0 0 6 6" preserveAspectRatio="none"><path d="M0 5.2H5.2V0" fill="none" stroke="#5d5e60" stroke-width="1.6"/></svg>
<svg class="a tx" width="1" height="1"><text class="s" transform="translate(87.63,723) scale(1.1167,1)" font-size="10.79" fill="#e6e7e7" stroke="#e6e7e7" stroke-width="0.72">IPFlows</text></svg>
<svg class="a" style="left:34.02px;top:740.68px" width="151.47" height="42.33" viewBox="0 0 253.2 73.26" preserveAspectRatio="none"><polygon points="39.23,53.45 10.1,70.26 -19.02,53.45 -19.02,19.82 10.1,3 39.23,19.82" fill="url(#hx)" stroke="#050505" stroke-width="3.6" stroke-linejoin="miter"/><polygon points="97.48,53.45 68.35,70.26 39.23,53.45 39.23,19.82 68.35,3 97.48,19.82" fill="url(#hx)" stroke="#050505" stroke-width="3.6" stroke-linejoin="miter"/><polygon points="155.73,53.45 126.6,70.26 97.48,53.45 97.48,19.82 126.6,3 155.73,19.82" fill="url(#hx)" stroke="#050505" stroke-width="3.6" stroke-linejoin="miter"/><polygon points="213.98,53.45 184.85,70.26 155.73,53.45 155.73,19.82 184.85,3 213.98,19.82" fill="url(#hg)" stroke="#050505" stroke-width="3.6" stroke-linejoin="miter"/><polygon points="272.23,53.45 243.1,70.26 213.98,53.45 213.98,19.82 243.1,3 272.23,19.82" fill="url(#hx)" stroke="#050505" stroke-width="3.6" stroke-linejoin="miter"/></svg>
<svg class="a" style="left:187.64px;top:796.92px" width="3.59" height="3.47" viewBox="0 0 6 6" preserveAspectRatio="none"><path d="M0 5.2H5.2V0" fill="none" stroke="#58595b" stroke-width="1.6"/></svg>
<!-- Ethernet 4 -->
<div class="a" style="left:204.9px;top:496.3px;width:167.2px;height:130px;background:#212124"></div>
<svg class="a" style="left:204.9px;top:496.3px" width="167.2" height="130" viewBox="0 0 279.5 225.0" preserveAspectRatio="none"><path d="M0 0H40.6L0 39.5Z" fill="#2d2d31"/><g transform="translate(6.2,5) scale(1.02)" fill="none" stroke="#a0a1a2" stroke-width="1.45"><path d="M11.2 8.6V11.8Q11.2 13.4 9.6 13.4H2.2Q.6 13.4 .6 11.8V4.6Q.6 3 2.2 3H6"/><path d="M6.2 8.8L14 1"/></g><path d="M15.8 5H21.2V10.4Z" fill="#a0a1a2"/><path d="M46.16 204.85A99.2 99.2 0 1 1 234.84 204.85L199.47 193.36A62 62 0 1 0 81.53 193.36Z" fill="#262626"/><path d="M46.16 204.85A99.2 99.2 0 0 1 65.52 109.25L93.64 133.6A62 62 0 0 0 81.53 193.36Z" fill="#299c46"/><path d="M36.55 207.98A109.3 109.3 0 0 1 214.42 93.68L209.68 98.84A102.3 102.3 0 0 0 43.21 205.81Z" fill="#299c46"/><path d="M214.42 93.68A109.3 109.3 0 0 1 249.44 165.28L242.46 165.85A102.3 102.3 0 0 0 209.68 98.84Z" fill="#dd7c29"/><path d="M249.44 165.28A109.3 109.3 0 0 1 244.45 207.98L237.79 205.81A102.3 102.3 0 0 0 242.46 165.85Z" fill="#d44a3a"/><path d="M270.5 220.5H275V216" fill="none" stroke="#808183" stroke-width="1.6"/></svg>
<svg class="a tx" width="1" height="1"><text class="s" transform="translate(260.9,512) scale(1.1024,1)" font-size="10.71" fill="#e6e7e7" stroke="#e6e7e7" stroke-width="0.72">Ethernet 4</text></svg>
<svg class="a tx" width="1" height="1"><text class="s" transform="translate(253.18,608) scale(1.0824,1)" font-size="20.74" font-weight="bold" fill="#dedede">2.928 Gb</text></svg>
<div class="a" style="left:204.12px;top:636.41px;width:168.93px;height:59.97px;background:#bf1b00;border-radius:2.69px"></div>
<svg class="a tx" width="1" height="1"><text class="s" transform="translate(241.98,652) scale(1.1316,1)" font-size="10.54" fill="#eee6e3" stroke="#eee6e3" stroke-width="0.72">DropCount(Total)</text></svg>
<svg class="a tx" width="1" height="1"><text class="s" transform="translate(282.57,690) scale(1.2483,1)" font-size="17.67" fill="#e6e6e6" stroke="#e6e6e6" stroke-width="0.4">2</text></svg>
<div class="a" style="left:208.49px;top:693.7px;width:160.92px;height:1.1px;background:#7c4a5c"></div>
<svg class="a" style="left:290.44px;top:685.58px" width="4.19" height="9.24" viewBox="0 0 7 16" preserveAspectRatio="none"><path d="M2.4 0.4H4.4L5.4 15.6H1.4Z" fill="#3572b0"/></svg>
<svg class="a" style="left:366.72px;top:691.07px" width="3.59" height="3.47" viewBox="0 0 6 6" preserveAspectRatio="none"><path d="M0 5.2H5.2V0" fill="none" stroke="#8a5f63" stroke-width="1.6"/></svg>
<svg class="a tx" width="1" height="1"><text class="s" transform="translate(266.53,723) scale(1.1167,1)" font-size="10.79" fill="#e6e7e7" stroke="#e6e7e7" stroke-width="0.72">IPFlows</text></svg>
<svg class="a" style="left:212.92px;top:740.68px" width="151.47" height="42.33" viewBox="0 0 253.2 73.26" preserveAspectRatio="none"><polygon points="39.23,53.45 10.1,70.26 -19.02,53.45 -19.02,19.82 10.1,3 39.23,19.82" fill="url(#hg)" stroke="#050505" stroke-width="3.6" stroke-linejoin="miter"/><polygon points="97.48,53.45 68.35,70.26 39.23,53.45 39.23,19.82 68.35,3 97.48,19.82" fill="url(#hg)" stroke="#050505" stroke-width="3.6" stroke-linejoin="miter"/><polygon points="155.73,53.45 126.6,70.26 97.48,53.45 97.48,19.82 126.6,3 155.73,19.82" fill="url(#hx)" stroke="#050505" stroke-width="3.6" stroke-linejoin="miter"/><polygon points="213.98,53.45 184.85,70.26 155.73,53.45 155.73,19.82 184.85,3 213.98,19.82" fill="url(#hg)" stroke="#050505" stroke-width="3.6" stroke-linejoin="miter"/><polygon points="272.23,53.45 243.1,70.26 213.98,53.45 213.98,19.82 243.1,3 272.23,19.82" fill="url(#hg)" stroke="#050505" stroke-width="3.6" stroke-linejoin="miter"/></svg>
<svg class="a" style="left:366.54px;top:796.92px" width="3.59" height="3.47" viewBox="0 0 6 6" preserveAspectRatio="none"><path d="M0 5.2H5.2V0" fill="none" stroke="#58595b" stroke-width="1.6"/></svg>
<!-- Ethernet 6 -->
<div class="a" style="left:383.8px;top:496.3px;width:167.2px;height:130px;background:#212124"></div>
<svg class="a" style="left:383.8px;top:496.3px" width="167.2" height="130" viewBox="0 0 279.5 225.0" preserveAspectRatio="none"><path d="M0 0H40.6L0 39.5Z" fill="#2d2d31"/><g transform="translate(6.2,5) scale(1.02)" fill="none" stroke="#a0a1a2" stroke-width="1.45"><path d="M11.2 8.6V11.8Q11.2 13.4 9.6 13.4H2.2Q.6 13.4 .6 11.8V4.6Q.6 3 2.2 3H6"/><path d="M6.2 8.8L14 1"/></g><path d="M15.8 5H21.2V10.4Z" fill="#a0a1a2"/><path d="M46.16 204.85A99.2 99.2 0 1 1 234.84 204.85L199.47 193.36A62 62 0 1 0 81.53 193.36Z" fill="#262626"/><path d="M46.16 204.85A99.2 99.2 0 0 1 177.26 82.06L163.48 116.61A62 62 0 0 0 81.53 193.36Z" fill="#299c46"/><path d="M36.55 207.98A109.3 109.3 0 0 1 214.42 93.68L209.68 98.84A102.3 102.3 0 0 0 43.21 205.81Z" fill="#299c46"/><path d="M214.42 93.68A109.3 109.3 0 0 1 249.44 165.28L242.46 165.85A102.3 102.3 0 0 0 209.68 98.84Z" fill="#dd7c29"/><path d="M249.44 165.28A109.3 109.3 0 0 1 244.45 207.98L237.79 205.81A102.3 102.3 0 0 0 242.46 165.85Z" fill="#d44a3a"/><path d="M270.5 220.5H275V216" fill="none" stroke="#808183" stroke-width="1.6"/></svg>
<svg class="a tx" width="1" height="1"><text class="s" transform="translate(439.88,512) scale(1.1024,1)" font-size="10.71" fill="#e6e7e7" stroke="#e6e7e7" stroke-width="0.72">Ethernet 6</text></svg>
<svg class="a tx" width="1" height="1"><text class="s" transform="translate(432.03,608) scale(1.0824,1)" font-size="20.74" font-weight="bold" fill="#dedede">6.45 Gb</text></svg>
<svg class="a tx" width="1" height="1"><text class="s" transform="translate(420.88,652) scale(1.1316,1)" font-size="10.54" fill="#e6e7e7" stroke="#e6e7e7" stroke-width="0.72">DropCount(Total)</text></svg>
<svg class="a tx" width="1" height="1"><text class="s" transform="translate(461.83,689) scale(1.1558,1)" font-size="18.39" font-weight="bold" fill="#d4d5d6">0</text></svg>
<div class="a" style="left:387.39px;top:689.42px;width:160.92px;height:1.1px;background:#1a456a"></div>
<svg class="a" style="left:545.62px;top:691.07px" width="3.59" height="3.47" viewBox="0 0 6 6" preserveAspectRatio="none"><path d="M0 5.2H5.2V0" fill="none" stroke="#5d5e60" stroke-width="1.6"/></svg>
<svg class="a tx" width="1" height="1"><text class="s" transform="translate(445.43,723) scale(1.1167,1)" font-size="10.79" fill="#e6e7e7" stroke="#e6e7e7" stroke-width="0.72">IPFlows</text></svg>
<svg class="a" style="left:391.82px;top:740.68px" width="151.47" height="42.33" viewBox="0 0 253.2 73.26" preserveAspectRatio="none"><polygon points="39.23,53.45 10.1,70.26 -19.02,53.45 -19.02,19.82 10.1,3 39.23,19.82" fill="url(#hg)" stroke="#050505" stroke-width="3.6" stroke-linejoin="miter"/><polygon points="97.48,53.45 68.35,70.26 39.23,53.45 39.23,19.82 68.35,3 97.48,19.82" fill="url(#hg)" stroke="#050505" stroke-width="3.6" stroke-linejoin="miter"/><polygon points="155.73,53.45 126.6,70.26 97.48,53.45 97.48,19.82 126.6,3 155.73,19.82" fill="url(#hx)" stroke="#050505" stroke-width="3.6" stroke-linejoin="miter"/><polygon points="213.98,53.45 184.85,70.26 155.73,53.45 155.73,19.82 184.85,3 213.98,19.82" fill="url(#hg)" stroke="#050505" stroke-width="3.6" stroke-linejoin="miter"/><polygon points="272.23,53.45 243.1,70.26 213.98,53.45 213.98,19.82 243.1,3 272.23,19.82" fill="url(#hg)" stroke="#050505" stroke-width="3.6" stroke-linejoin="miter"/></svg>
<svg class="a" style="left:545.44px;top:796.92px" width="3.59" height="3.47" viewBox="0 0 6 6" preserveAspectRatio="none"><path d="M0 5.2H5.2V0" fill="none" stroke="#58595b" stroke-width="1.6"/></svg>
<!-- Ethernet 8 -->
<div class="a" style="left:562.7px;top:496.3px;width:167.2px;height:130px;background:#212124"></div>
<svg class="a" style="left:562.7px;top:496.3px" width="167.2" height="130" viewBox="0 0 279.5 225.0" preserveAspectRatio="none"><path d="M0 0H40.6L0 39.5Z" fill="#2d2d31"/><g transform="translate(6.2,5) scale(1.02)" fill="none" stroke="#a0a1a2" stroke-width="1.45"><path d="M11.2 8.6V11.8Q11.2 13.4 9.6 13.4H2.2Q.6 13.4 .6 11.8V4.6Q.6 3 2.2 3H6"/><path d="M6.2 8.8L14 1"/></g><path d="M15.8 5H21.2V10.4Z" fill="#a0a1a2"/><path d="M46.16 204.85A99.2 99.2 0 1 1 234.84 204.85L199.47 193.36A62 62 0 1 0 81.53 193.36Z" fill="#262626"/><path d="M46.16 204.85A99.2 99.2 0 0 1 80.83 94.95L103.21 124.67A62 62 0 0 0 81.53 193.36Z" fill="#299c46"/><path d="M36.55 207.98A109.3 109.3 0 0 1 214.42 93.68L209.68 98.84A102.3 102.3 0 0 0 43.21 205.81Z" fill="#299c46"/><path d="M214.42 93.68A109.3 109.3 0 0 1 249.44 165.28L242.46 165.85A102.3 102.3 0 0 0 209.68 98.84Z" fill="#dd7c29"/><path d="M249.44 165.28A109.3 109.3 0 0 1 244.45 207.98L237.79 205.81A102.3 102.3 0 0 0 242.46 165.85Z" fill="#d44a3a"/><path d="M270.5 220.5H275V216" fill="none" stroke="#808183" stroke-width="1.6"/></svg>
<svg class="a tx" width="1" height="1"><text class="s" transform="translate(618.78,512) scale(1.1024,1)" font-size="10.71" fill="#e6e7e7" stroke="#e6e7e7" stroke-width="0.72">Ethernet 8</text></svg>
<svg class="a tx" width="1" height="1"><text class="s" transform="translate(611.24,608) scale(1.0824,1)" font-size="20.74" font-weight="bold" fill="#dedede">3.53 Gb</text></svg>
<svg class="a tx" width="1" height="1"><text class="s" transform="translate(599.78,652) scale(1.1316,1)" font-size="10.54" fill="#e6e7e7" stroke="#e6e7e7" stroke-width="0.72">DropCount(Total)</text></svg>
<svg class="a tx" width="1" height="1"><text class="s" transform="translate(640.73,689) scale(1.1558,1)" font-size="18.39" font-weight="bold" fill="#d4d5d6">0</text></svg>
<div class="a" style="left:566.29px;top:689.42px;width:160.92px;height:1.1px;background:#1a456a"></div>
<svg class="a" style="left:724.52px;top:691.07px" width="3.59" height="3.47" viewBox="0 0 6 6" preserveAspectRatio="none"><path d="M0 5.2H5.2V0" fill="none" stroke="#5d5e60" stroke-width="1.6"/></svg>
<svg class="a tx" width="1" height="1"><text class="s" transform="translate(624.33,723) scale(1.1167,1)" font-size="10.79" fill="#e6e7e7" stroke="#e6e7e7" stroke-width="0.72">IPFlows</text></svg>
<svg class="a" style="left:570.72px;top:740.68px" width="151.47" height="42.33" viewBox="0 0 253.2 73.26" preserveAspectRatio="none"><polygon points="39.23,53.45 10.1,70.26 -19.02,53.45 -19.02,19.82 10.1,3 39.23,19.82" fill="url(#hg)" stroke="#050505" stroke-width="3.6" stroke-linejoin="miter"/><polygon points="97.48,53.45 68.35,70.26 39.23,53.45 39.23,19.82 68.35,3 97.48,19.82" fill="url(#hg)" stroke="#050505" stroke-width="3.6" stroke-linejoin="miter"/><polygon points="155.73,53.45 126.6,70.26 97.48,53.45 97.48,19.82 126.6,3 155.73,19.82" fill="url(#hx)" stroke="#050505" stroke-width="3.6" stroke-linejoin="miter"/><polygon points="213.98,53.45 184.85,70.26 155.73,53.45 155.73,19.82 184.85,3 213.98,19.82" fill="url(#hg)" stroke="#050505" stroke-width="3.6" stroke-linejoin="miter"/><polygon points="272.23,53.45 243.1,70.26 213.98,53.45 213.98,19.82 243.1,3 272.23,19.82" fill="url(#hg)" stroke="#050505" stroke-width="3.6" stroke-linejoin="miter"/></svg>
<svg class="a" style="left:724.34px;top:796.92px" width="3.59" height="3.47" viewBox="0 0 6 6" preserveAspectRatio="none"><path d="M0 5.2H5.2V0" fill="none" stroke="#58595b" stroke-width="1.6"/></svg>
</div>
<svg class="a" style="left:819px;top:328px" width="45" height="93" viewBox="0 0 45 93"><path d="M0.5 0.7L43.4 43.2L0.5 92.2Z" fill="#9b9b9b"/></svg>
<!-- detail: Ethernet 4 -->
<div class="a" style="left:0;top:0;width:1479px;height:806px;filter:url(#br)">
<div class="a" style="left:953px;top:121.4px;width:279.5px;height:225px;background:#212124"></div>
<svg class="a" style="left:953px;top:121.4px" width="279.5" height="225" viewBox="0 0 279.5 225.0" preserveAspectRatio="none"><path d="M0 0H40.6L0 39.5Z" fill="#2d2d31"/><g transform="translate(6.2,5) scale(1.02)" fill="none" stroke="#a0a1a2" stroke-width="1.45"><path d="M11.2 8.6V11.8Q11.2 13.4 9.6 13.4H2.2Q.6 13.4 .6 11.8V4.6Q.6 3 2.2 3H6"/><path d="M6.2 8.8L14 1"/></g><path d="M15.8 5H21.2V10.4Z" fill="#a0a1a2"/><path d="M46.16 204.85A99.2 99.2 0 1 1 234.84 204.85L199.47 193.36A62 62 0 1 0 81.53 193.36Z" fill="#262626"/><path d="M46.16 204.85A99.2 99.2 0 0 1 65.52 109.25L93.64 133.6A62 62 0 0 0 81.53 193.36Z" fill="#299c46"/><path d="M36.55 207.98A109.3 109.3 0 0 1 214.42 93.68L209.68 98.84A102.3 102.3 0 0 0 43.21 205.81Z" fill="#299c46"/><path d="M214.42 93.68A109.3 109.3 0 0 1 249.44 165.28L242.46 165.85A102.3 102.3 0 0 0 209.68 98.84Z" fill="#dd7c29"/><path d="M249.44 165.28A109.3 109.3 0 0 1 244.45 207.98L237.79 205.81A102.3 102.3 0 0 0 242.46 165.85Z" fill="#d44a3a"/><path d="M270.5 220.5H275V216" fill="none" stroke="#808183" stroke-width="1.6"/></svg>
<svg class="a tx" width="1" height="1"><text class="s" transform="translate(1046.61,148) scale(1.0647,1)" font-size="18.53" fill="#e6e7e7" stroke="#e6e7e7" stroke-width="1.25">Ethernet 4</text></svg>
<svg class="a tx" width="1" height="1"><text class="s" transform="translate(1033.7,315) scale(1.0454,1)" font-size="35.89" font-weight="bold" fill="#dedede">2.928 Gb</text></svg>
<div class="a" style="left:951.7px;top:363.9px;width:282.4px;height:103.8px;background:#bf1b00;border-radius:4.5px"></div>
<svg class="a tx" width="1" height="1"><text class="s" transform="translate(1014.99,391) scale(1.093,1)" font-size="18.24" fill="#eee6e3" stroke="#eee6e3" stroke-width="1.25">DropCount(Total)</text></svg>
<svg class="a tx" width="1" height="1"><text class="s" transform="translate(1082.85,456) scale(1.2057,1)" font-size="30.59" fill="#e6e6e6" stroke="#e6e6e6" stroke-width="0.7">2</text></svg>
<div class="a" style="left:959px;top:463.1px;width:269px;height:1.8px;background:#7c4a5c"></div>
<svg class="a" style="left:1096px;top:449px" width="7" height="16" viewBox="0 0 7 16" preserveAspectRatio="none"><path d="M2.4 0.4H4.4L5.4 15.6H1.4Z" fill="#3572b0"/></svg>
<svg class="a" style="left:1223.5px;top:458.5px" width="6" height="6" viewBox="0 0 6 6" preserveAspectRatio="none"><path d="M0 5.2H5.2V0" fill="none" stroke="#8a5f63" stroke-width="1.6"/></svg>
<svg class="a tx" width="1" height="1"><text class="s" transform="translate(1056.02,513) scale(1.0785,1)" font-size="18.68" fill="#e6e7e7" stroke="#e6e7e7" stroke-width="1.25">IPFlows</text></svg>
<svg class="a" style="left:966.4px;top:544.37px" width="253.2" height="73.26" viewBox="0 0 253.2 73.26" preserveAspectRatio="none"><polygon points="39.23,53.45 10.1,70.26 -19.02,53.45 -19.02,19.82 10.1,3 39.23,19.82" fill="url(#hg)" stroke="#050505" stroke-width="3.6" stroke-linejoin="miter"/><polygon points="97.48,53.45 68.35,70.26 39.23,53.45 39.23,19.82 68.35,3 97.48,19.82" fill="url(#hg)" stroke="#050505" stroke-width="3.6" stroke-linejoin="miter"/><polygon points="155.73,53.45 126.6,70.26 97.48,53.45 97.48,19.82 126.6,3 155.73,19.82" fill="url(#hx)" stroke="#050505" stroke-width="3.6" stroke-linejoin="miter"/><polygon points="213.98,53.45 184.85,70.26 155.73,53.45 155.73,19.82 184.85,3 213.98,19.82" fill="url(#hg)" stroke="#050505" stroke-width="3.6" stroke-linejoin="miter"/><polygon points="272.23,53.45 243.1,70.26 213.98,53.45 213.98,19.82 243.1,3 272.23,19.82" fill="url(#hg)" stroke="#050505" stroke-width="3.6" stroke-linejoin="miter"/></svg>
<svg class="a" style="left:1223.2px;top:641.7px" width="6" height="6" viewBox="0 0 6 6" preserveAspectRatio="none"><path d="M0 5.2H5.2V0" fill="none" stroke="#58595b" stroke-width="1.6"/></svg>
</div>
<div class="a" style="left:940.9px;top:96.9px;width:307.2px;height:555.3px;box-sizing:border-box;border:6.5px solid #00a585;border-radius:3.5px"></div>
<svg class="a" style="left:0;top:0" width="1479" height="806"><g fill="none" stroke="#ecad00" stroke-width="4.7"><path d="M970.99 597.76L868.71 697.04" stroke-dasharray="4.7 4.489"/><path d="M1031.7 595.6L1007.7 705.5" stroke-dasharray="4.7 4.282"/><path d="M1092.71 600.91L1166.59 701.29" stroke-dasharray="4.7 4.527"/><path d="M1156.76 605.62L1261.34 700.98" stroke-dasharray="4.7 4.422"/><path d="M1214.93 605.78L1335.17 697.12" stroke-dasharray="4.7 4.444"/></g></svg>
<svg class="a tx" width="1" height="1"><text class="s" transform="translate(798.12,722) scale(0.9658,1)" font-size="20.06" fill="#ecad00">SMPTE2110-20</text></svg>
<svg class="a tx" width="1" height="1"><text class="s" transform="translate(941.9,725) scale(0.9869,1.27)" font-size="20.06" fill="#ecad00">/</text></svg>
<svg class="a tx" width="1" height="1"><text class="s" transform="translate(956.12,722) scale(0.9694,1)" font-size="20.06" fill="#ecad00">SMPTE2110-30</text></svg>
<svg class="a tx" width="1" height="1"><text class="s" transform="translate(1100.2,725) scale(1.0049,1.27)" font-size="20.06" fill="#ecad00">/</text></svg>
<svg class="a tx" width="1" height="1"><text class="s" transform="translate(1113.62,722) scale(0.9687,1)" font-size="20.06" fill="#ecad00">SMPTE2022-6</text></svg>
<svg class="a tx" width="1" height="1"><text class="s" transform="translate(1246.2,725) scale(1.0049,1.27)" font-size="20.06" fill="#ecad00">/</text></svg>
<svg class="a tx" width="1" height="1"><text class="s" transform="translate(1259.72,722) scale(0.8979,1)" font-size="20.06" fill="#ecad00">PTP</text></svg>
<svg class="a tx" width="1" height="1"><text class="s" transform="translate(1299.8,725) scale(1.0049,1.27)" font-size="20.06" fill="#ecad00">/</text></svg>
<svg class="a tx" width="1" height="1"><text class="s" transform="translate(1313.02,722) scale(0.9596,1)" font-size="20.06" fill="#ecad00">IGMP</text></svg>
<svg class="a tx" width="1" height="1"><text class="s" style="font-family:'Liberation Sans','Noto Sans CJK JP',sans-serif" transform="translate(1260.83,290.4) scale(1.0058,1)" font-size="20.85" fill="#ecad00">データ流量</text></svg>
<svg class="a tx" width="1" height="1"><text class="s" style="font-family:'Liberation Sans','Noto Sans CJK JP',sans-serif" transform="translate(1261.19,429.18) scale(1.0432,1)" font-size="19.68" fill="#ecad00">パケットドロップ数</text></svg>
<svg class="a tx" width="1" height="1"><text class="s" style="font-family:'Liberation Sans','Noto Sans CJK JP',sans-serif" transform="translate(1260.75,583.99) scale(0.9405,1)" font-size="22.01" fill="#ecad00">データ種別</text></svg>
</body></html>
